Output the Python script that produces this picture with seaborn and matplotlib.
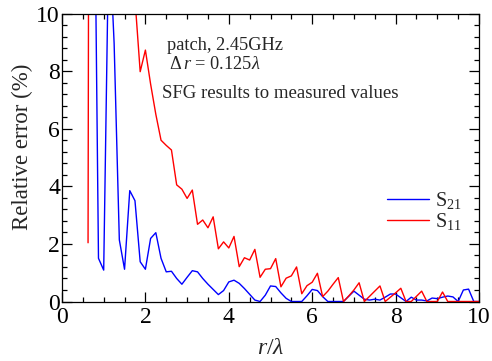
import numpy as np
import pandas as pd
import matplotlib
matplotlib.use("Agg")
import matplotlib.pyplot as plt
from matplotlib.ticker import MultipleLocator
import seaborn as sns

# ---- data ----
r_lambda = [0.625, 0.75, 0.875, 1.0, 1.125, 1.25, 1.375, 1.5, 1.625, 1.75,
            1.875, 2.0, 2.125, 2.25, 2.375, 2.5, 2.625, 2.75, 2.875, 3.0,
            3.125, 3.25, 3.375, 3.5, 3.625, 3.75, 3.875, 4.0, 4.125, 4.25,
            4.375, 4.5, 4.625, 4.75, 4.875, 5.0, 5.125, 5.25, 5.375, 5.5,
            5.625, 5.75, 5.875, 6.0, 6.125, 6.25, 6.375, 6.5, 6.625, 6.75,
            6.875, 7.0, 7.125, 7.25, 7.375, 7.5, 7.625, 7.75, 7.875, 8.0,
            8.125, 8.25, 8.375, 8.5, 8.625, 8.75, 8.875, 9.0, 9.125, 9.25,
            9.375, 9.5, 9.625, 9.75, 9.875, 10.0]

s21 = [25.0, 19.0, 1.5, 1.09, 13.0, 8.97, 2.14, 1.12, 3.85, 3.5,
       1.38, 1.12, 2.19, 2.39, 1.5, 1.03, 1.05, 0.8, 0.6, 0.84,
       1.07, 1.03, 0.8, 0.6, 0.42, 0.24, 0.38, 0.68, 0.74, 0.63,
       0.45, 0.25, 0.05, 0.0, 0.22, 0.54, 0.52, 0.3, 0.11, 0.0,
       0.0, 0.0, 0.2, 0.42, 0.38, 0.17, 0.0, 0.0, 0.0, 0.0,
       0.18, 0.36, 0.22, 0.08, 0.05, 0.08, 0.05, 0.15, 0.26, 0.26,
       0.13, 0.0, 0.15, 0.05, 0.05, 0.02, 0.12, 0.1, 0.15, 0.19,
       0.16, 0.0, 0.4, 0.43, 0.0, 0.0]

s11 = [2.04, 100.0, 60.0, 45.0, 35.0, 28.0, 22.0, 17.0, 13.0, 10.5,
       7.98, 8.73, 7.55, 6.5, 5.6, 5.42, 5.26, 4.05, 3.9, 3.58,
       3.87, 2.68, 2.83, 2.56, 2.94, 1.83, 2.07, 1.86, 2.26, 1.21,
       1.52, 1.44, 1.81, 0.84, 1.12, 1.14, 1.49, 0.51, 0.81, 0.89,
       1.2, 0.27, 0.55, 0.67, 0.98, 0.17, 0.36, 0.6, 0.83, 0.0,
       0.19, 0.4, 0.65, 0.0, 0.18, 0.36, 0.54, 0.0, 0.15, 0.3,
       0.46, 0.0, 0.0, 0.18, 0.36, 0.0, 0.0, 0.0, 0.33, 0.0,
       0.0, 0.0, 0.0, 0.0, 0.0, 0.0]

series_names = ["S21", "S11"]
legend_labels = [r"S$_{21}$", r"S$_{11}$"]
series_colors = ["#0000ff", "#ff0000"]

annot_lines = ["patch, 2.45GHz", r"$\Delta\,r$ = 0.125$\lambda$",
               "SFG results to measured values"]

df = pd.DataFrame({
    "r": r_lambda * 2,
    "err": s21 + s11,
    "series": [series_names[0]] * len(s21) + [series_names[1]] * len(s11),
})

# ---- style ----
sns.set_style("ticks")
plt.rcParams["font.family"] = ["Liberation Serif", "DejaVu Serif"]
plt.rcParams["mathtext.fontset"] = "custom"
plt.rcParams["mathtext.rm"] = "Liberation Serif"
plt.rcParams["mathtext.it"] = "Liberation Serif:italic"
plt.rcParams["mathtext.bf"] = "Liberation Serif:bold"

fig = plt.figure(figsize=(4.92, 3.61), dpi=100)
ax = fig.add_axes([0.1260, 0.1648, 0.8476, 0.7978])

sns.lineplot(data=df, x="r", y="err", hue="series", hue_order=series_names,
             palette=dict(zip(series_names, series_colors)), linewidth=1.0,
             sort=False, estimator=None, ax=ax)

ax.set_xlim(0, 10)
ax.set_ylim(0, 10)
ax.xaxis.set_major_locator(MultipleLocator(2))
ax.xaxis.set_minor_locator(MultipleLocator(0.5))
ax.yaxis.set_major_locator(MultipleLocator(2))
ax.yaxis.set_minor_locator(MultipleLocator(0.4))
ax.tick_params(which="both", direction="in", top=True, right=True,
               colors="black", width=0.9)
ax.tick_params(which="major", length=7, labelsize=17)
ax.tick_params(which="minor", length=3.6)
ax.tick_params(axis="y", which="major", pad=1.5)
ax.tick_params(axis="x", which="major", pad=4)
for sp in ax.spines.values():
    sp.set_color("black")
    sp.set_linewidth(0.9)

ax.set_xlabel(r"$r/\lambda$", fontsize=17)
ax.set_ylabel("Relative error (%)", fontsize=16.5)
ax.xaxis.set_label_coords(0.5, -0.125)
ax.yaxis.set_label_coords(-0.07, 0.538)

handles, _ = ax.get_legend_handles_labels()
ax.legend(handles, legend_labels, loc="center left",
          bbox_to_anchor=(0.779, 0.315), frameon=False, fontsize=14.5,
          borderpad=0, borderaxespad=0, handlelength=2.1,
          handletextpad=0.3, labelspacing=0.0)

ax.text(0.251, 0.872, annot_lines[0], transform=ax.transAxes,
        fontsize=13.2, va="baseline", ha="left")
ax.text(0.257, 0.806, annot_lines[1], transform=ax.transAxes,
        fontsize=13.2, va="baseline", ha="left")
ax.text(0.239, 0.707, annot_lines[2], transform=ax.transAxes,
        fontsize=13.5, va="baseline", ha="left")

fig.savefig("out.png", dpi=100)
